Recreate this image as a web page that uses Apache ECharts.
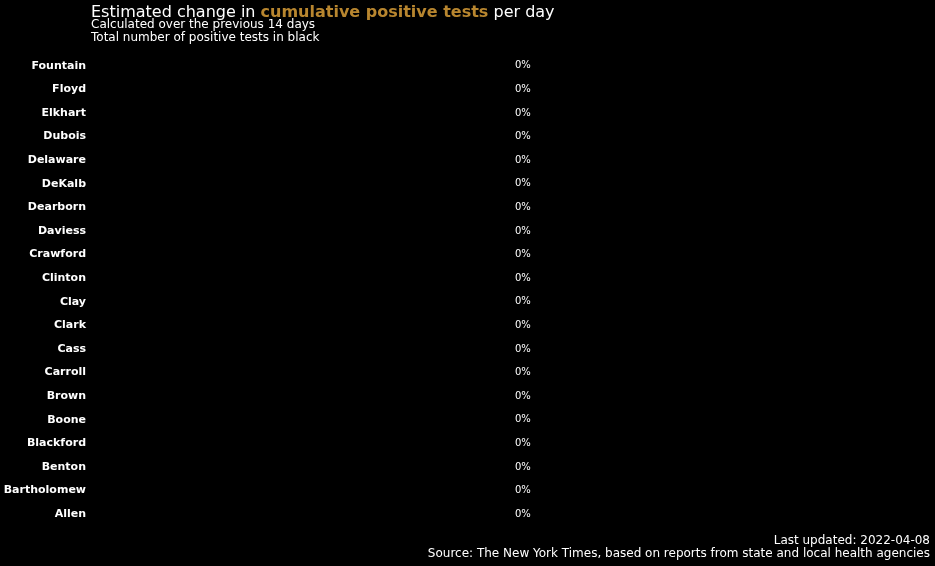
<!DOCTYPE html>
<html><head><meta charset="utf-8">
<script src="https://cdn.jsdelivr.net/npm/echarts@6/dist/echarts.min.js"></script>
<style>html,body{margin:0;padding:0;background:#000;}#c{width:935px;height:566px;}</style>
</head><body><div id="c"></div>
<script>
const categories = ['Allen','Bartholomew','Benton','Blackford','Boone','Brown','Carroll','Cass','Clark','Clay','Clinton','Crawford','Daviess','Dearborn','DeKalb','Delaware','Dubois','Elkhart','Floyd','Fountain'];
const changeValues = [0,0,0,0,0,0,0,0,0,0,0,0,0,0,0,0,0,0,0,0];
const xTicks = [-1, 1];
const font = 'DejaVu Sans';
const chart = echarts.init(document.getElementById('c'), null, {renderer:'canvas'});
chart.setOption({
  backgroundColor:'#000',
  animation:false,
  textStyle:{fontFamily:font},
  graphic:[
    {type:'text',left:91,top:5,style:{
      text:'{a|Estimated change in }{b|cumulative positive tests}{a| per day}',
      rich:{
        a:{fontFamily:font,fontSize:16,fontWeight:'normal',fill:'#ffffff'},
        b:{fontFamily:font,fontSize:16,fontWeight:'bold',fill:'#b8862f'}
      }}},
    {type:'text',left:91,top:18,style:{
      text:'Calculated over the previous 14 days\nTotal number of positive tests in black',
      fontFamily:font,fontSize:12,fill:'#ffffff',lineHeight:13.5}},
    {type:'text',right:5,top:535,style:{
      text:'Last updated: 2022-04-08',
      fontFamily:font,fontSize:12,fill:'#ffffff'}},
    {type:'text',right:5,top:548,style:{
      text:'Source: The New York Times, based on reports from state and local health agencies',
      fontFamily:font,fontSize:12,fill:'#ffffff'}}
  ],
  grid:{left:91,right:6,top:54,bottom:40,containLabel:false},
  xAxis:{type:'value',min:xTicks[0],max:xTicks[1],show:false},
  yAxis:{type:'category',data:categories,
    axisLine:{show:false},axisTick:{show:false},splitLine:{show:false},
    axisLabel:{color:'#ffffff',fontFamily:font,fontSize:11,fontWeight:'bold',margin:5}},
  series:[{
    type:'bar',data:changeValues,barWidth:'60%',
    itemStyle:{color:'#b8862f'},
    label:{show:true,position:'right',distance:5,color:'#ffffff',fontFamily:font,fontSize:10,fontWeight:'normal',
      formatter:p=>Math.round(p.value*100)+'%'}
  }]
});
</script></body></html>
